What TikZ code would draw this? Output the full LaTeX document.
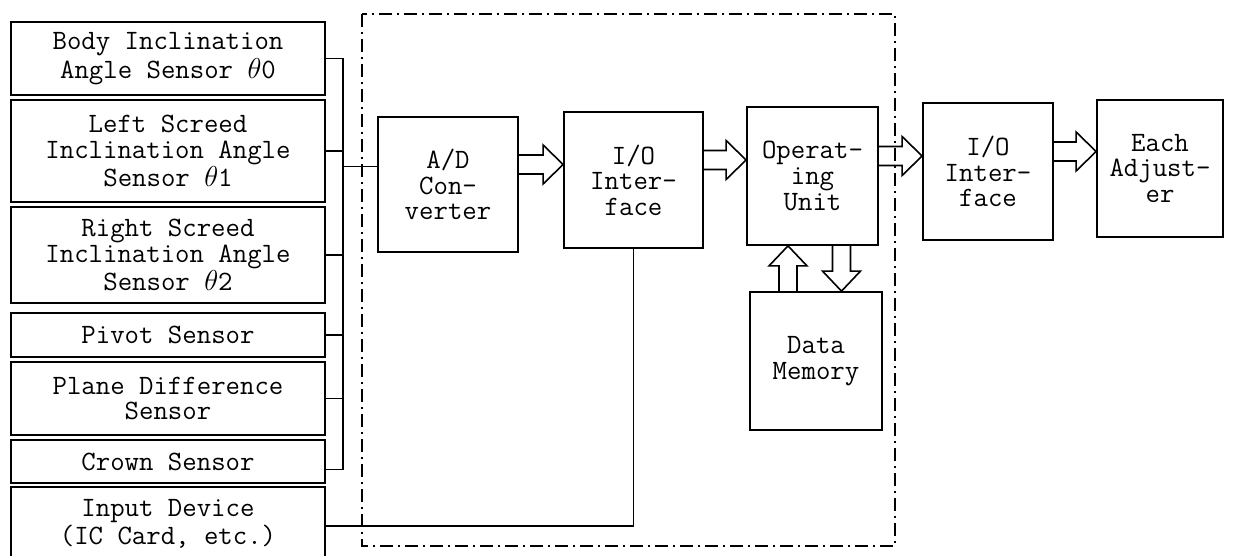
\documentclass[tikz,border=0pt]{standalone}
\usetikzlibrary{calc}
\newcommand{\boxfont}{\fontsize{14}{12.8}\selectfont\ttfamily}
\newcommand{\hollowarrow}[2]{%
  \draw[fatline] let \p1=(#1), \p2=(#2) in
    (\x1,\y1+4.75pt) -- (\x2-10pt,\y1+4.75pt) -- (\x2-10pt,\y1+9.75pt) -- (\x2,\y1)
    -- (\x2-10pt,\y1-9.75pt) -- (\x2-10pt,\y1-4.75pt) -- (\x1,\y1-4.75pt);}
\newcommand{\hollowvarrow}[3]{%
  \draw[fatline] let \p1=(#1), \p2=(#2) in
    (\x1-4.5pt,\y1) -- (\x1-4.5pt,{\y2-(#3)}) -- (\x1-9.5pt,{\y2-(#3)}) -- (\x1,\y2)
    -- (\x1+9.5pt,{\y2-(#3)}) -- (\x1+4.5pt,{\y2-(#3)}) -- (\x1+4.5pt,\y1);}

\begin{document}
\begin{tikzpicture}[x=0.5pt, y=-0.5pt,
  sensorbox/.style={draw, line width=0.9pt, minimum width=157pt, inner sep=1pt, align=center, font=\boxfont},
  unitbox/.style={draw, line width=0.9pt, inner sep=1pt, align=center, font=\boxfont},
  wire/.style={line width=0.8pt},
  fatline/.style={line width=0.8pt, line join=miter},
  dashframe/.style={line width=0.8pt, dash pattern=on 6.5pt off 2.5pt on 1pt off 2.5pt}]
  \useasboundingbox (0,0) rectangle (1255,556);

  \node[sensorbox, minimum height=36.5pt] (body) at (168,58.5) {Body Inclination\\Angle Sensor $\theta$0};
  \node[sensorbox, minimum height=51pt] (lscreed) at (168,151) {Left Screed\\Inclination Angle\\Sensor $\theta$1};
  \node[sensorbox, minimum height=48pt] (rscreed) at (168,255) {Right Screed\\Inclination Angle\\Sensor $\theta$2};
  \node[sensorbox, minimum height=22pt] (pivot) at (168,335) {Pivot Sensor};
  \node[sensorbox, minimum height=36.5pt] (plane) at (168,398.5) {Plane Difference\\Sensor};
  \node[sensorbox, minimum height=21.5pt] (crown) at (168,461.5) {Crown Sensor};
  \node[sensorbox, minimum height=37pt] (input) at (168,524) {Input Device\\(IC Card, etc.)};

  \node[unitbox, minimum width=70pt, minimum height=67.5pt] (ad) at (448,184.5) {A/D\\Con-\\verter};
  \node[unitbox, minimum width=69.5pt, minimum height=68pt] (io1) at (633.5,180) {I/O\\Inter-\\face};
  \node[unitbox, minimum width=65.5pt, minimum height=69pt] (ou) at (812.5,176) {Operat-\\ing\\Unit};
  \node[unitbox, minimum width=66pt, minimum height=69pt] (dm) at (816,361) {Data\\Memory};
  \node[unitbox, minimum width=65pt, minimum height=68.5pt] (io2) at (988,171.5) {I/O\\Inter-\\face};
  \node[unitbox, minimum width=63pt, minimum height=68.5pt] (ea) at (1160,168.5) {Each\\Adjust-\\er};

  \draw[dashframe] (362,14) rectangle (895,546);

  \coordinate (bus) at (343,0);
  \draw[wire] (body.east) -- (body.east -| bus) -- ([yshift=-4pt]crown.east -| bus) -- ([yshift=-4pt]crown.east);
  \foreach \s in {lscreed,rscreed,pivot,plane}
    \draw[wire] (\s.east) -- (\s.east -| bus);
  \draw[wire] ([yshift=9pt]ad.west) -- ([yshift=9pt]ad.west -| bus);
  \draw[wire] ([yshift=-1pt]input.east) -| (io1.south);

  \hollowarrow{[yshift=10pt]ad.east}{io1.west}
  \hollowarrow{[yshift=10pt]io1.east}{ou.west}
  \hollowarrow{[yshift=10pt]ou.east}{io2.west}
  \hollowarrow{[yshift=10pt]io2.east}{ea.west}
  \hollowvarrow{[xshift=-14pt]dm.north}{ou.south}{10pt}
  \hollowvarrow{[xshift=14.5pt]ou.south}{dm.north}{-10pt}
\end{tikzpicture}
\end{document}
